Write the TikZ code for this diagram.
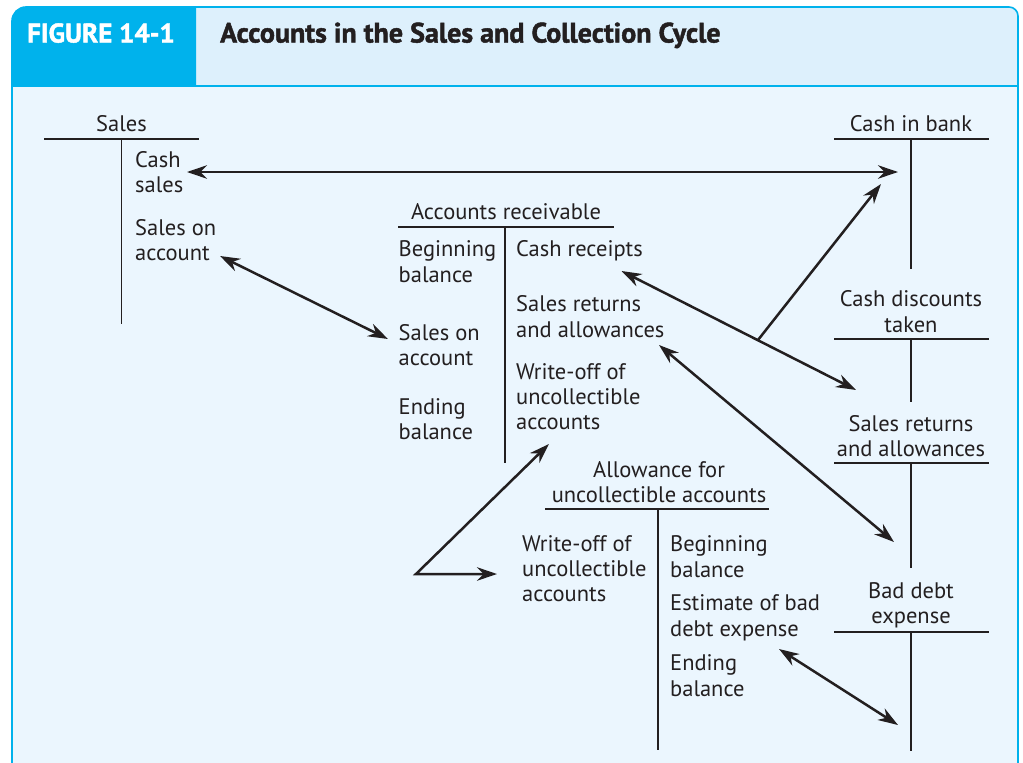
\documentclass[tikz,border=0pt]{standalone}
\usepackage{fontspec}
\setmainfont{PT Sans}
\newfontfamily\headfont[FakeBold=1.6]{PT Sans}
\usetikzlibrary{arrows.meta}
\definecolor{figcyan}{RGB}{0,178,236}
\definecolor{headbg}{RGB}{221,240,252}
\definecolor{bodybg}{RGB}{235,246,254}
\definecolor{ink}{RGB}{35,31,32}

\begin{document}
\begin{tikzpicture}[x=1pt,y=-1pt,>={Stealth[length=20pt,width=13.5pt]},
  font=\fontsize{22.5}{25.3}\selectfont,
  tline/.style={draw=ink,line width=1.4pt},
  entry/.style={anchor=base west,align=left,inner sep=0pt,text=ink},
  acct/.style={anchor=base,align=center,inner sep=0pt,text=ink},
  link/.style={line width=2.5pt,draw=ink}]
\useasboundingbox (0,0) rectangle (1023,763);
% frame and header
\fill[white] (0,0) rectangle (1023,763);
\fill[bodybg] (12,86) rectangle (1018,763);
\fill[headbg] (196,86) -- (196,7) [rounded corners=9pt] -- (1018,7) [sharp corners] -- (1018,86) -- cycle;
\fill[figcyan] (196,86) -- (12,86) [rounded corners=14pt] -- (12,7) [sharp corners] -- (196,7) -- cycle;
\draw[figcyan,line width=1.6pt] (12,763) [rounded corners=14pt] -- (12,7) [rounded corners=9pt] -- (1018,7) [sharp corners] -- (1018,763);
\draw[figcyan,line width=1.6pt] (12,86) -- (1018,86);
\node[anchor=base west,inner sep=0pt,text=white,font=\headfont\fontsize{27}{30}\selectfont\bfseries] (fig) at (27,42.5) {FIGURE 14-1};
\node[anchor=base west,inner sep=0pt,text=ink,font=\headfont\fontsize{28}{30}\selectfont\bfseries] (title) at (220,42.5) {Accounts in the Sales and Collection Cycle};

% Sales
\node[acct] (sales) at (121.5,131.5) {Sales};
\draw[tline] (44,139) -- (199,139);
\draw[tline] (121.5,139) -- (121.5,324);
\node[entry] (cashsales) at (135,192.8) {Cash\\sales};
\node[entry] (salesacct) at (135,260.8) {Sales on\\account};

% Cash in bank
\node[acct] (bank) at (911,131.5) {Cash in bank};
\draw[tline] (834,139) -- (989,139);
\draw[tline] (911,139) -- (911,269);

% Accounts receivable
\node[acct] (ar) at (506,219) {Accounts receivable};
\draw[tline] (398,227) -- (614,227);
\draw[tline] (505,227) -- (505,463);
\node[entry] (arbeg) at (398.5,282) {Beginning\\balance};
\node[entry] (arsales) at (398.5,365.3) {Sales on\\account};
\node[entry] (arend) at (398.5,439.3) {Ending\\balance};
\node[entry] (arcash) at (516,256.7) {Cash receipts};
\node[entry] (arret) at (516,337) {Sales returns\\and allowances};
\node[entry] (arwo) at (516,429.9) {Write-off of\\uncollectible\\accounts};

% Cash discounts taken
\node[acct] (disc) at (911,332) {Cash discounts\\taken};
\draw[tline] (834,339) -- (989,339);
\draw[tline] (911,339) -- (911,402);

% Sales returns and allowances
\node[acct] (ret) at (911,456.3) {Sales returns\\and allowances};
\draw[tline] (834,463) -- (989,463);
\draw[tline] (911,463) -- (911,568);

% Bad debt expense
\node[acct] (bad) at (911,623.6) {Bad debt\\expense};
\draw[tline] (834,632) -- (989,632);
\draw[tline] (911,632) -- (911,751);

% Allowance for uncollectible accounts
\node[acct] (allow) at (659,502.6) {Allowance for\\uncollectible accounts};
\draw[tline] (545,509) -- (769,509);
\draw[tline] (658,509) -- (658,750);
\node[entry] (allwo) at (522,601.6) {Write-off of\\uncollectible\\accounts};
\node[entry] (allbeg) at (670,577) {Beginning\\balance};
\node[entry] (allest) at (670,636) {Estimate of bad\\debt expense};
\node[entry] (allend) at (670,696) {Ending\\balance};

% arrow ends
\coordinate (p1) at (187,172);
\coordinate (p2) at (898,172);
\coordinate (p3) at (220,256);
\coordinate (p4) at (388,339);
\coordinate (p5) at (621.5,271);
\coordinate (p6) at (856,390);
\coordinate (fork) at (758,340);
\coordinate (p7) at (881,184);
\coordinate (p8) at (659,345);
\coordinate (p9) at (894,542);
\coordinate (vee) at (416,574);
\coordinate (p10) at (549,444);
\coordinate (p11) at (497,574);
\coordinate (p12) at (779,649);
\coordinate (p13) at (898,725);

\draw[link,<->] (p1) -- (p2);
\draw[link,<->] (p3) -- (p4);
\draw[link,<->] (p5) -- (p6);
\draw[link,->] (fork) -- (p7);
\draw[link,<->] (p8) -- (p9);
\draw[link,<->,line join=miter] (p10) -- (vee) -- (p11);
\draw[link,<->] (p12) -- (p13);
\end{tikzpicture}
\end{document}
